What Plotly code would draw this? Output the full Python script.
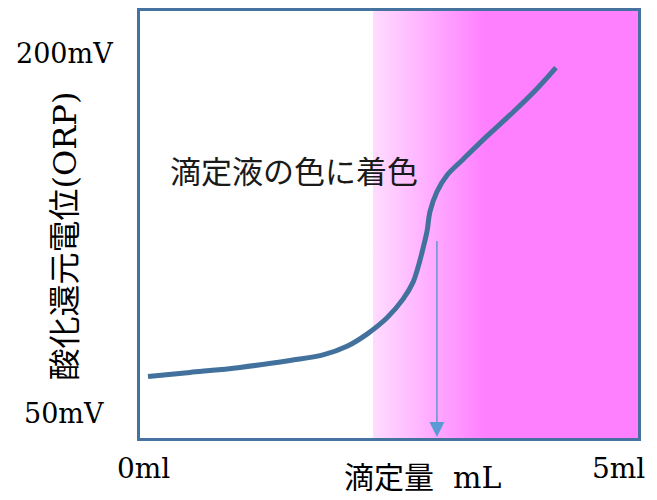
import plotly.graph_objects as go

# Titration curve (volume in mL, ORP in mV)
volume_ml = [0.000, 0.447, 0.979, 1.511, 1.862, 2.117, 2.330, 2.543, 2.713, 2.819,
             2.872, 2.926, 2.968, 3.000, 3.074, 3.181, 3.351, 3.606, 3.883, 4.138, 4.340]
orp_mv = [65.3, 67.0, 69.1, 72.0, 74.3, 77.9, 83.0, 89.8, 97.6, 104.6,
          110.8, 118.8, 125.8, 134.1, 142.4, 149.3, 155.9, 165.6, 175.6, 185.4, 194.2]

# Colored region (titrant color appears) and end-point arrow
color_start_ml = 2.394
endpoint_ml = 3.074
arrow_top_mv = 122.5

# Tick labels
y_tick_vals = [200, 50]
y_tick_text = ["200mV", "50mV"]
x_tick_vals = [0, 5]
x_tick_text = ["0ml", "5ml"]

x_title = "滴定量  mL"
y_title = "酸化還元電位(ORP)"
note_text = "滴定液の色に着色"

X_RANGE = [-0.0851, 5.2128]
Y_RANGE = [39.64, 217.84]

fig = go.Figure()

# pink gradient region
fig.add_trace(go.Scatter(
    x=[color_start_ml, X_RANGE[1], X_RANGE[1], color_start_ml, color_start_ml],
    y=[Y_RANGE[0], Y_RANGE[0], Y_RANGE[1], Y_RANGE[1], Y_RANGE[0]],
    mode="lines", line=dict(width=0), fill="toself",
    fillgradient=dict(type="horizontal",
                      colorscale=[[0, "#ffdcff"], [0.42, "#ff80ff"], [1, "#ff80ff"]]),
    hoverinfo="skip", showlegend=False,
))

# titration curve
fig.add_trace(go.Scatter(
    x=volume_ml, y=orp_mv, mode="lines",
    line=dict(color="#41719c", width=5, shape="spline", smoothing=1.0),
    showlegend=False,
))

annotations = []
# end point arrow
annotations.append(dict(
    x=endpoint_ml, y=Y_RANGE[0] + 0.4, xref="x", yref="y",
    ax=endpoint_ml, ay=arrow_top_mv, axref="x", ayref="y",
    text="", showarrow=True, arrowhead=2, arrowsize=2, arrowwidth=1.5,
    arrowcolor="#5b9bd5", standoff=0,
))

# y tick labels
for v, t in zip(y_tick_vals, y_tick_text):
    annotations.append(dict(
        x=-0.1526, y=v, xref="paper", yref="y", text=t, showarrow=False,
        xanchor="center", yanchor="middle",
        font=dict(family="DejaVu Serif", size=27, color="#000000"),
    ))

# x tick labels
x_tick_px_center = {0: 143.5, 5: 618.5}
for v, t in zip(x_tick_vals, x_tick_text):
    annotations.append(dict(
        x=v + (x_tick_px_center[v] - (148 + 94 * v)) / 94, y=-0.072,
        xref="x", yref="paper", text=t, showarrow=False,
        xanchor="center", yanchor="middle",
        font=dict(family="DejaVu Serif", size=28, color="#000000"),
    ))

# axis titles
annotations.append(dict(
    x=(423 - 148) / 94, y=-0.093, xref="x", yref="paper", text=x_title,
    showarrow=False, xanchor="center", yanchor="middle",
    font=dict(family="DejaVu Serif, Noto Sans CJK JP", size=30, color="#000000"),
))
annotations.append(dict(
    x=-0.1506, y=0.472, xref="paper", yref="paper", text=y_title,
    showarrow=False, xanchor="center", yanchor="middle", textangle=-90,
    font=dict(family="DejaVu Serif, Noto Sans CJK JP", size=32, color="#000000"),
))

# note
annotations.append(dict(
    x=1.553, y=151.7, xref="x", yref="y", text=note_text, showarrow=False,
    xanchor="center", yanchor="middle",
    font=dict(family="Noto Sans CJK JP", size=31, color="#1a1a1a"),
))

fig.update_layout(
    width=657, height=500,
    margin=dict(l=140, r=19, t=8, b=62),
    paper_bgcolor="white", plot_bgcolor="white",
    annotations=annotations,
    showlegend=False,
)
fig.update_xaxes(range=X_RANGE, showgrid=False, zeroline=False, showticklabels=False,
                 ticks="", showline=True, mirror=True, linecolor="#4672a0", linewidth=3)
fig.update_yaxes(range=Y_RANGE, showgrid=False, zeroline=False, showticklabels=False,
                 ticks="", showline=True, mirror=True, linecolor="#4672a0", linewidth=3)

fig.write_html("out.html", config={"displayModeBar": False},
               post_script="document.body.style.margin='0px';document.body.style.overflow='hidden';")
